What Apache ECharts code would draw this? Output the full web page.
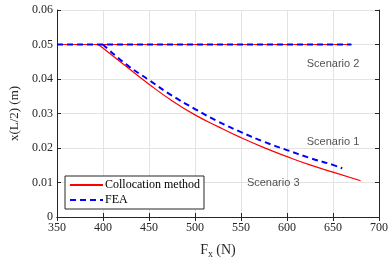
<!DOCTYPE html>
<html>
<head>
<meta charset="utf-8">
<script src="https://cdn.jsdelivr.net/npm/echarts@6/dist/echarts.min.js"></script>
<style>
  html, body { margin: 0; padding: 0; background: #fff; }
  #chart { width: 391px; height: 266px; }
</style>
</head>
<body>
<div id="chart"></div>
<script>
// x(L/2) vs Fx — collocation method vs FEA
var flatX = [350, 670];
var flatY = [0.05, 0.05];

var colX = [395, 425, 450, 475, 500, 525, 550, 575, 600, 625, 650, 680];
var colY = [0.05, 0.0437, 0.0385, 0.0337, 0.0296, 0.0262, 0.0230, 0.0201, 0.0175, 0.0151, 0.0130, 0.0105];

var feaX = [400, 425, 450, 475, 500, 525, 550, 575, 600, 625, 650, 660];
var feaY = [0.05, 0.0443, 0.0397, 0.0352, 0.0313, 0.0277, 0.0246, 0.0218, 0.0194, 0.0171, 0.0151, 0.0141];

var notes = ['Scenario 2', 'Scenario 1', 'Scenario 3'];
var noteX = [650, 650, 585];
var noteY = [0.0443, 0.0218, 0.0099];

function pairs(xs, ys) {
  return xs.map(function (x, i) { return [x, ys[i]]; });
}

var serif = '"Liberation Serif", "DejaVu Serif", serif';
var red = '#ff0000';
var blue = '#0000ff';

var chart = echarts.init(document.getElementById('chart'), null, { renderer: 'canvas' });

var tickCommon = { inside: true, length: 4, lineStyle: { color: '#262626' } };

chart.setOption({
  animation: false,
  grid: { left: 56, right: 9, top: 10, bottom: 49, show: false },
  legend: {
    left: 65, top: 176,
    orient: 'vertical',
    itemWidth: 33, itemHeight: 10, itemGap: 3,
    padding: [3, 4, 3, 4],
    backgroundColor: '#fff',
    borderColor: '#262626', borderWidth: 1,
    borderRadius: 0,
    itemStyle: { opacity: 0 },
    textStyle: { fontFamily: serif, fontSize: 12, color: '#000', padding: [0, 0, 0, -3] },
    data: ['Collocation method', 'FEA']
  },
  xAxis: [{
    type: 'value', min: 350, max: 700, interval: 50, position: 'bottom',
    name: '{b|F}{s|x} {b|(N)}', nameLocation: 'middle', nameGap: 24,
    nameTextStyle: {
      rich: {
        b: { fontFamily: serif, fontSize: 14, color: '#262626' },
        s: { fontFamily: serif, fontSize: 10, color: '#262626', verticalAlign: 'bottom', padding: [8, 0, 0, 0] }
      }
    },
    axisLine: { show: true, lineStyle: { color: '#262626', width: 1 } },
    axisTick: tickCommon,
    axisLabel: { fontFamily: serif, fontSize: 12, color: '#262626', margin: 5 },
    splitLine: { show: true, lineStyle: { color: '#e3e3e3' } }
  }, {
    type: 'value', min: 350, max: 700, interval: 50, position: 'top',
    axisLine: { show: true, lineStyle: { color: '#262626', width: 1 } },
    axisTick: tickCommon,
    axisLabel: { show: false },
    splitLine: { show: false }
  }],
  yAxis: [{
    type: 'value', min: 0, max: 0.06, interval: 0.01, position: 'left',
    name: 'x(L/2) (m)', nameLocation: 'middle', nameGap: 36,
    nameTextStyle: { fontFamily: serif, fontSize: 13, color: '#262626' },
    axisLine: { show: true, lineStyle: { color: '#262626', width: 1 } },
    axisTick: tickCommon,
    axisLabel: {
      fontFamily: serif, fontSize: 12, color: '#262626', margin: 4,
      formatter: function (v) { return v === 0 ? '0' : v.toFixed(2); }
    },
    splitLine: { show: true, lineStyle: { color: '#e3e3e3' } }
  }, {
    type: 'value', min: 0, max: 0.06, interval: 0.01, position: 'right',
    axisLine: { show: true, lineStyle: { color: '#262626', width: 1 } },
    axisTick: tickCommon,
    axisLabel: { show: false },
    splitLine: { show: false }
  }],
  series: [
    {
      name: 'Collocation method', type: 'line', symbol: 'none',
      data: pairs(flatX, flatY),
      lineStyle: { color: red, width: 1.2 }, itemStyle: { color: red }
    },
    {
      name: 'Collocation method', type: 'line', symbol: 'none', smooth: 0.5,
      data: pairs(colX, colY),
      lineStyle: { color: red, width: 1.2 }, itemStyle: { color: red }
    },
    {
      name: 'FEA', type: 'line', symbol: 'none',
      data: pairs(flatX, flatY),
      lineStyle: { color: blue, width: 2, type: [6, 4] }, itemStyle: { color: blue }
    },
    {
      name: 'FEA', type: 'line', symbol: 'none', smooth: 0.5,
      data: pairs(feaX, feaY),
      lineStyle: { color: blue, width: 2, type: [6, 4] }, itemStyle: { color: blue }
    },
    {
      name: 'notes', type: 'scatter', symbolSize: 0, silent: true,
      data: noteX.map(function (x, i) { return { value: [x, noteY[i]], name: notes[i] }; }),
      label: {
        show: true, position: 'inside',
        formatter: function (p) { return p.name; },
        fontFamily: '"Liberation Sans", Arial, sans-serif', fontSize: 11, color: '#262626'
      }
    }
  ]
});
</script>
</body>
</html>
